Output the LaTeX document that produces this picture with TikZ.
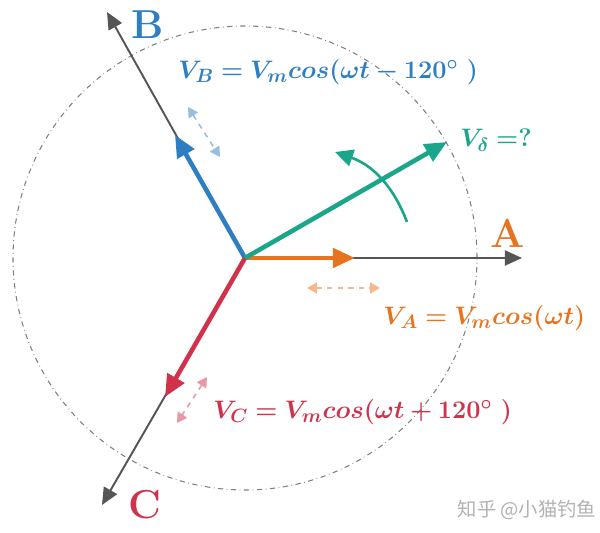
\documentclass[tikz,border=0pt]{standalone}
\usepackage{bm}
\usepackage{amsmath}
\usepackage{xcolor}
\usepackage{fontspec}
\newfontfamily\cjk{Noto Sans CJK SC}
\usetikzlibrary{arrows.meta}
\definecolor{phaseA}{RGB}{232,115,30}
\definecolor{phaseB}{RGB}{46,126,193}
\definecolor{phaseC}{RGB}{208,50,75}
\definecolor{delta}{RGB}{26,166,138}
\definecolor{axisgray}{RGB}{85,85,85}
\tikzset{%
    axis/.style={-{Triangle[length=0.34cm,width=0.3cm]},color=axisgray,line width=1.1pt},
    phasor/.style={-{Triangle[length=0.44cm,width=0.38cm]},line width=2.6pt},
    swing/.style={{Triangle[length=0.2cm,width=0.22cm]}-{Triangle[length=0.2cm,width=0.22cm]},dashed,line width=0.9pt},
    guide/.style={dash dot,gray,line width=0.6pt},
    phase name/.style={font=\fontsize{23}{23}\selectfont\bfseries},
    phase eq/.style={anchor=west,inner sep=0pt,font=\fontsize{15.8}{15.8}\selectfont},
}

\begin{document}
\begin{tikzpicture}
        \useasboundingbox (-4.9,-5.5) rectangle (7.1,5.16);
        \coordinate (O) at (0,0);
        \draw[guide] (O) circle (4.64);

        % axes
        \coordinate (axA) at (5.54,0);
        \coordinate (axB) at (-2.76,4.92);
        \coordinate (axC) at (-2.86,-4.94);
        \draw[axis] (O) -- (axA);
        \draw[axis] (O) -- (axB);
        \draw[axis] (O) -- (axC);
        \node[phase name,text=phaseA] (nameA) at (5.26,0.5) {A};
        \node[phase name,text=phaseB] (nameB) at (-1.94,4.66) {B};
        \node[phase name,text=phaseC] (nameC) at (-2.0,-4.94) {C};

        % phasors
        \coordinate (VA) at (2.2,0);
        \coordinate (VB) at (-1.4,2.46);
        \coordinate (VC) at (-1.6,-2.78);
        \coordinate (Vd) at (4.04,2.32);
        \draw[phasor,phaseA] (O) -- (VA);
        \draw[phasor,phaseB] (O) -- (VB);
        \draw[phasor,phaseC] (O) -- (VC);
        \draw[phasor,delta] (O) -- (Vd);

        \coordinate (rotS) at (3.24,0.72);
        \coordinate (rotE) at (1.8,2.12);
        \draw[delta,line width=1.5pt,-{Triangle[length=0.36cm,width=0.34cm]}] (rotS) to[bend right=25] (rotE);

        % swings
        \coordinate (sA1) at (1.24,-0.6);
        \coordinate (sA2) at (2.7,-0.6);
        \draw[swing,phaseA!50] (sA1) -- (sA2);
        \coordinate (sB1) at (-1.14,3.02);
        \coordinate (sB2) at (-0.5,2.02);
        \draw[swing,phaseB!50] (sB1) -- (sB2);
        \coordinate (sC1) at (-0.76,-2.38);
        \coordinate (sC2) at (-1.36,-3.3);
        \draw[swing,phaseC!50] (sC1) -- (sC2);

        % labels
        \node[phase eq,text=phaseB] (eqB) at (-1.34,3.72) {$\bm{V_B = V_m cos(\omega t - 120^{\circ}\ )}$};
        \node[phase eq,text=delta] (eqD) at (4.3,2.36) {$\bm{V_\delta = ?}$};
        \node[phase eq,text=phaseA] (eqA) at (2.76,-1.2) {$\bm{V_A = V_m cos(\omega t)}$};
        \node[phase eq,text=phaseC] (eqC) at (-0.64,-3.08) {$\bm{V_C = V_m cos(\omega t + 120^{\circ}\ )}$};

        \node[text=gray!60,font=\cjk\fontsize{11}{11}\selectfont] (mark) at (5.64,-5.04) {知乎 @小猫钓鱼};
    \end{tikzpicture}
\end{document}
